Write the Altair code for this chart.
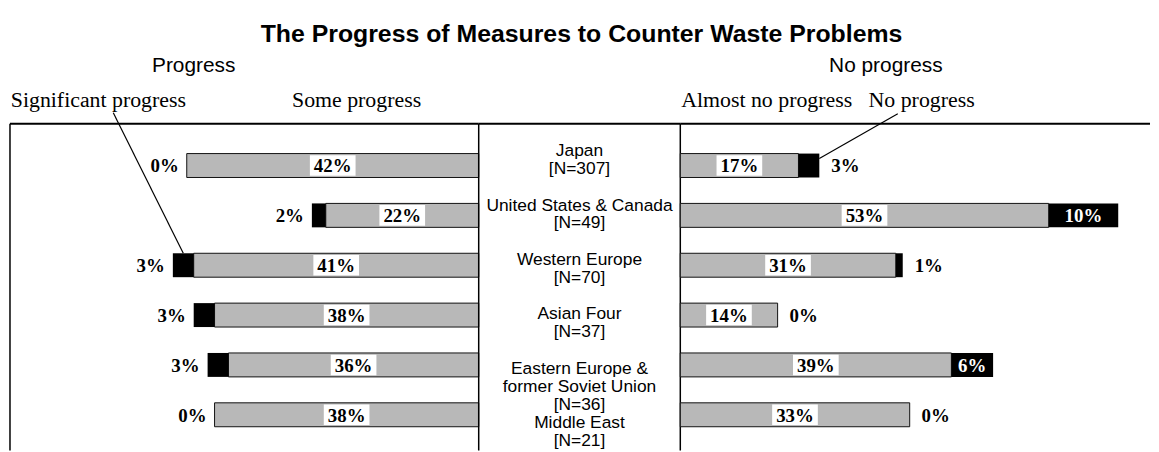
import altair as alt
import pandas as pd

# ---------------- data ----------------
regions = ["Japan", "United States & Canada", "Western Europe", "Asian Four",
           "Eastern Europe & former Soviet Union", "Middle East"]
region_text = ["Japan\n[N=307]", "United States & Canada\n[N=49]", "Western Europe\n[N=70]",
               "Asian Four\n[N=37]", "Eastern Europe &\nformer Soviet Union\n[N=36]", "Middle East\n[N=21]"]
significant = [0, 2, 3, 3, 3, 0]
some = [42, 22, 41, 38, 36, 38]
almost_none = [17, 53, 31, 14, 39, 33]
no_progress = [3, 10, 1, 0, 6, 0]

df = pd.DataFrame({"region": regions, "label": region_text, "sig": significant,
                   "some": some, "almost": almost_none, "no": no_progress})
df["left_total"] = df["some"] + df["sig"]
df["some_mid"] = df["some"] / 2
df["sig_mid"] = df["some"] + df["sig"] / 2
df["right_total"] = df["almost"] + df["no"]
df["almost_mid"] = df["almost"] / 2
df["no_mid"] = df["almost"] + df["no"] / 2
df["sig_lab"] = df["sig"].astype(str) + "%"
df["some_lab"] = df["some"].astype(str) + "%"
df["almost_lab"] = df["almost"].astype(str) + "%"
df["no_lab"] = df["no"].astype(str) + "%"

one = pd.DataFrame({"k": [0]})

# ---------------- layout constants ----------------
PX = 7.0          # pixels per percentage point
LW, CW, RW, H = 472, 203, 473, 329
TOP = 115         # space above the framed area
GREY = "#b8b8b8"
SERIF = "Liberation Serif"
SANS = "Liberation Sans"
BOX = "M-1,-0.45L1,-0.45L1,0.45L-1,0.45Z"
pct = dict(font=SERIF, fontWeight="bold", fontSize=19, baseline="middle", dy=1)

y_enc = alt.Y("region:N",
              scale=alt.Scale(domain=regions, paddingInner=0.52, paddingOuter=0.537, align=0.557),
              axis=None)
xl = alt.Scale(domain=[0, LW / PX], reverse=True)
xr = alt.Scale(domain=[0, RW / PX])

# ---------------- left panel (progress) ----------------
bl = alt.Chart(df).encode(y=y_enc)
l_some = bl.mark_bar(fill=GREY, stroke="#111", strokeWidth=1).encode(
    x=alt.X("some:Q", scale=xl, axis=None))
l_sig = bl.mark_bar(fill="black").encode(
    x=alt.X("some:Q", scale=xl, axis=None), x2="left_total:Q")
l_box = bl.mark_point(shape=BOX, size=46 * 46, filled=True, color="white", opacity=1).encode(
    x=alt.X("some_mid:Q", scale=xl))
l_some_t = bl.mark_text(**pct).encode(x=alt.X("some_mid:Q", scale=xl), text="some_lab:N")
l_sig_t = bl.mark_text(align="right", dx=-8, **pct).encode(
    x=alt.X("left_total:Q", scale=xl), text="sig_lab:N")
l_lead = alt.Chart(df).transform_filter(alt.datum.region == "Western Europe").mark_rule(
    strokeWidth=1.2, color="black", yOffset=-12).encode(
    x=alt.X("sig_mid:Q", scale=xl), x2=alt.value(104), y=y_enc, y2=alt.value(-11))

# invisible anchor fixing the top of the chart
l_anchor = alt.Chart(one).mark_rule(strokeWidth=0.001, opacity=0).encode(
    x=alt.value(20), x2=alt.value(21), y=alt.value(-TOP))
l_frame_top = alt.Chart(one).mark_rule(strokeWidth=2, color="black").encode(
    x=alt.value(0), x2=alt.value(LW), y=alt.value(0))
l_frame_left = alt.Chart(one).mark_rule(strokeWidth=1.5, color="black").encode(
    x=alt.value(0), y=alt.value(0), y2=alt.value(H))
l_head = alt.Chart(one).mark_text(font=SANS, fontSize=21, align="center").encode(
    x=alt.value(185), y=alt.value(-58), text=alt.value("Progress"))
l_sub1 = alt.Chart(one).mark_text(font=SERIF, fontSize=22, align="center").encode(
    x=alt.value(89), y=alt.value(-24), text=alt.value("Significant progress"))
l_sub2 = alt.Chart(one).mark_text(font=SERIF, fontSize=22, align="center").encode(
    x=alt.value(349), y=alt.value(-24), text=alt.value("Some progress"))

left = alt.layer(l_anchor, l_frame_top, l_frame_left, l_some, l_sig, l_box, l_some_t, l_sig_t,
                 l_lead, l_head, l_sub1, l_sub2).properties(width=LW, height=H)

# ---------------- centre panel (regions) ----------------
c_lab = alt.Chart(df).mark_text(font=SANS, fontSize=17.5, lineBreak="\n", lineHeight=18,
                                baseline="middle", dy=-3).encode(
    x=alt.value(CW / 2), y=y_enc, text="label:N")
c_top = alt.Chart(one).mark_rule(strokeWidth=2, color="black").encode(
    x=alt.value(0), x2=alt.value(CW), y=alt.value(0))
c_l = alt.Chart(one).mark_rule(strokeWidth=1.5, color="black").encode(
    x=alt.value(0), y=alt.value(0), y2=alt.value(H))
c_r = alt.Chart(one).mark_rule(strokeWidth=1.5, color="black").encode(
    x=alt.value(CW), y=alt.value(0), y2=alt.value(H))
c_title = alt.Chart(one).mark_text(font=SANS, fontSize=25, fontWeight="bold", align="center").encode(
    x=alt.value(CW / 2 + 2), y=alt.value(-90),
    text=alt.value("The Progress of Measures to Counter Waste Problems"))

center = alt.layer(c_top, c_l, c_r, c_lab, c_title).properties(width=CW, height=H)

# ---------------- right panel (no progress) ----------------
br = alt.Chart(df).encode(y=y_enc)
r_almost = br.mark_bar(fill=GREY, stroke="#111", strokeWidth=1).encode(
    x=alt.X("almost:Q", scale=xr, axis=None))
r_no = br.mark_bar(fill="black").encode(
    x=alt.X("almost:Q", scale=xr, axis=None), x2="right_total:Q")
r_box = br.mark_point(shape=BOX, size=46 * 46, filled=True, color="white", opacity=1).encode(
    x=alt.X("almost_mid:Q", scale=xr))
r_almost_t = br.mark_text(**pct).encode(x=alt.X("almost_mid:Q", scale=xr), text="almost_lab:N")
r_no_out = br.transform_filter(alt.datum.no < 5).mark_text(align="left", dx=12, **pct).encode(
    x=alt.X("right_total:Q", scale=xr), text="no_lab:N")
r_no_in = br.transform_filter(alt.datum.no >= 5).mark_text(color="white", **pct).encode(
    x=alt.X("no_mid:Q", scale=xr), text="no_lab:N")
r_lead = alt.Chart(df).transform_filter(alt.datum.region == "Japan").mark_rule(
    strokeWidth=1.2, color="black", yOffset=-7).encode(
    x=alt.X("right_total:Q", scale=xr), x2=alt.value(219), y=y_enc, y2=alt.value(-10))

r_top = alt.Chart(one).mark_rule(strokeWidth=2, color="black").encode(
    x=alt.value(0), x2=alt.value(RW), y=alt.value(0))
r_head = alt.Chart(one).mark_text(font=SANS, fontSize=21, align="center").encode(
    x=alt.value(207), y=alt.value(-58), text=alt.value("No progress"))
r_sub1 = alt.Chart(one).mark_text(font=SERIF, fontSize=22, align="center").encode(
    x=alt.value(87), y=alt.value(-24), text=alt.value("Almost no progress"))
r_sub2 = alt.Chart(one).mark_text(font=SERIF, fontSize=22, align="center").encode(
    x=alt.value(243), y=alt.value(-24), text=alt.value("No progress"))

right = alt.layer(r_top, r_almost, r_no, r_box, r_almost_t, r_no_out, r_no_in, r_lead,
                  r_head, r_sub1, r_sub2).properties(width=RW, height=H)

chart = alt.hconcat(left, center, right, spacing=0, bounds="flush").properties(
    padding={"left": 1, "top": 0, "right": 0, "bottom": 0}
).configure_view(stroke=None)

chart.save("out.html", embed_options={"renderer": "svg", "actions": False})
